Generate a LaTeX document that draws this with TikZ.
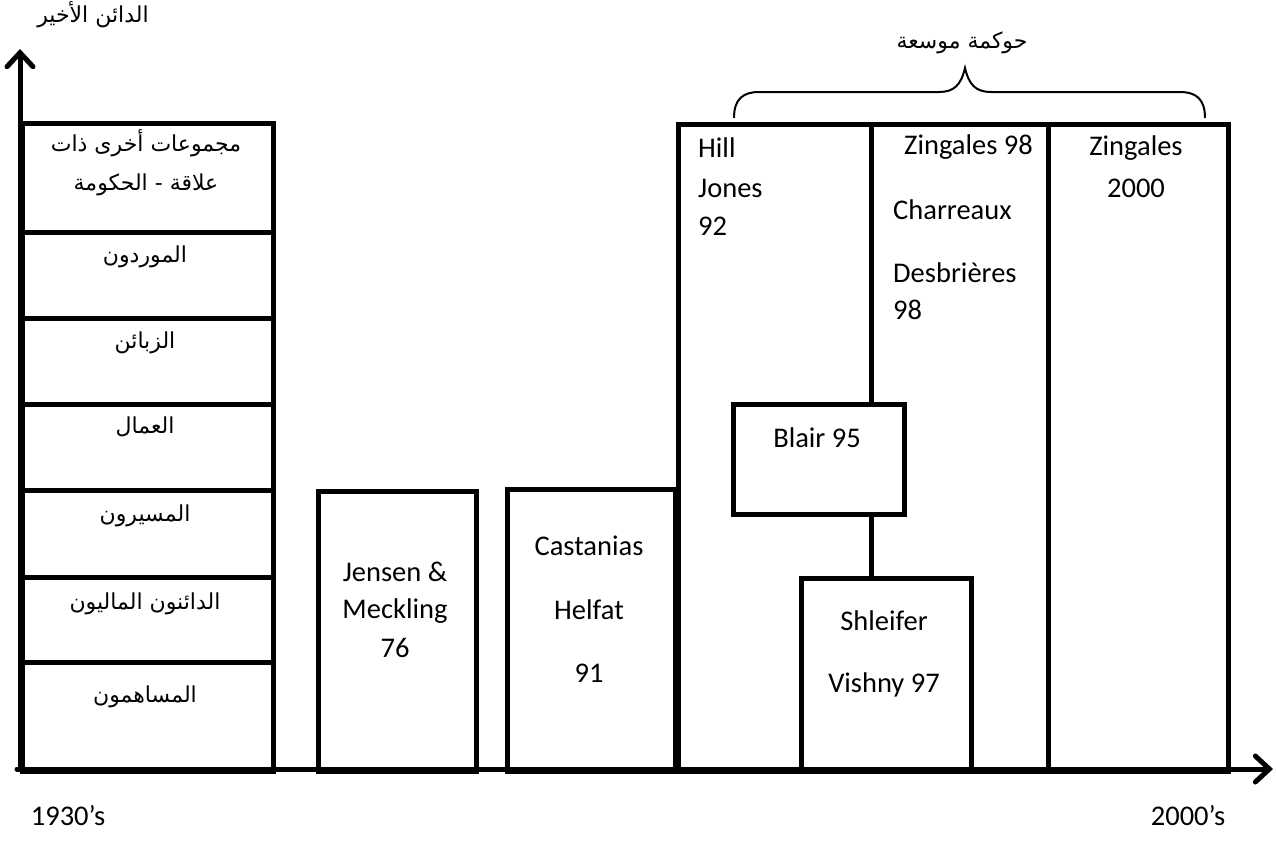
\documentclass[tikz,border=0pt]{standalone}
\usepackage{fontspec}
\setmainfont{Carlito}
\newfontfamily\arabicfont[Script=Arabic]{DejaVu Sans}
\TeXXeTstate=1
\usetikzlibrary{arrows.meta}
\tikzset{
  box/.style={draw, line width=5pt, inner sep=0pt, anchor=north west},
  lat/.style={font=\fontsize{28.5}{34}\selectfont, inner sep=0pt, text height=0.65em, text depth=0.1em},
  ar/.style={font=\arabicfont\fontsize{22}{28}\selectfont, inner sep=0pt, text height=0.75em, text depth=0.25em},
  axis/.style={line width=5pt, line cap=round, -{Straight Barb[length=14pt,width=26pt,line cap=round]}},
  link/.style={line width=5pt},
  brace/.style={line width=2pt}
}
\begin{document}
\begin{tikzpicture}[x=1pt,y=-1pt]
\useasboundingbox (0,0) rectangle (1276,841);
% left stack
\node[box, minimum width=251pt, minimum height=109pt] (s1) at (20,121) {};
\node[box, minimum width=251pt, minimum height=86pt] (s2) at (20,230) {};
\node[box, minimum width=251pt, minimum height=86pt] (s3) at (20,316) {};
\node[box, minimum width=251pt, minimum height=86pt] (s4) at (20,402) {};
\node[box, minimum width=251pt, minimum height=87pt] (s5) at (20,488) {};
\node[box, minimum width=251pt, minimum height=85pt] (s6) at (20,575) {};
\node[box, minimum width=251pt, minimum height=109pt] (s7) at (20,660) {};
% other boxes
\node[box, minimum width=158pt, minimum height=280pt] (jm) at (316,489) {};
\node[box, minimum width=168pt, minimum height=282pt] (ch) at (505,487) {};
\node[box, minimum width=370pt, minimum height=647pt] (hz) at (676,122) {};
\node[box, minimum width=180pt, minimum height=647pt] (z2) at (1046,122) {};
\node[box, minimum width=171pt, minimum height=110pt] (bl) at (731,402) {};
\node[box, minimum width=170pt, minimum height=193pt] (sv) at (799,576) {};
% connectors (divider)
\coordinate (d) at (871,122);
\draw[link] (d) -- (d |- bl.north);
\draw[link] (bl.south -| d) -- (d |- sv.north);
% axes
\coordinate (o) at (20,769);
\coordinate (ytip) at (20,49);
\coordinate (xs) at (17,769);
\coordinate (xtip) at (1273,769);
\draw[axis] (o) -- (ytip);
\draw[axis] (xs) -- (xtip);
% brace
\coordinate (bL) at (734,118);
\coordinate (bT) at (965,68);
\coordinate (bR) at (1205,118);
\draw[brace] (bL) .. controls (734,99) and (743,92) .. (759,92) -- (939,92)
  .. controls (954,92) and (961,85) .. (bT)
  .. controls (969,85) and (976,92) .. (991,92) -- (1180,92)
  .. controls (1196,92) and (1205,99) .. (bR);
% Arabic labels
\node[ar] (ylab) at (93,20) {\beginR الدائن الأخير\endR};
\node[ar] (brlab) at (962,46) {\beginR حوكمة موسعة\endR};
\node[ar] (t1a) at (146,149) {\beginR مجموعات أخرى ذات\endR};
\node[ar] (t1b) at (146,188) {\beginR علاقة -  الحكومة\endR};
\node[ar] (t2) at (145,260) {\beginR الموردون\endR};
\node[ar] (t3) at (145,346) {\beginR الزبائن\endR};
\node[ar] (t4) at (145,431) {\beginR العمال\endR};
\node[ar] (t5) at (145,519) {\beginR المسيرون\endR};
\node[ar] (t6) at (145,607) {\beginR الدائنون الماليون\endR};
\node[ar] (t7) at (145,700) {\beginR المساهمون\endR};
% Latin labels
\node[lat] (jm1) at (395,579) {Jensen \&};
\node[lat] (jm2) at (395,616) {Meckling};
\node[lat] (jm3) at (395,655) {76};
\node[lat] (ch1) at (589,553) {Castanias};
\node[lat] (ch2) at (589,617) {Helfat};
\node[lat] (ch3) at (589,680) {91};
\node[lat, anchor=west] (h1) at (698,155) {Hill};
\node[lat, anchor=west] (h2) at (698,195) {Jones};
\node[lat, anchor=west] (h3) at (698,233) {92};
\node[lat, anchor=west] (zg1) at (904,152) {Zingales 98};
\node[lat, anchor=west] (zg2) at (893,217) {Charreaux};
\node[lat, anchor=west] (zg3) at (893,280) {Desbrières};
\node[lat, anchor=west] (zg4) at (893,317) {98};
\node[lat] (za1) at (1136,153) {Zingales};
\node[lat] (za2) at (1136,195) {2000};
\node[lat] (bl1) at (817,445) {Blair 95};
\node[lat] (sv1) at (884,628) {Shleifer};
\node[lat] (sv2) at (884,690) {Vishny 97};
\node[lat] (x1) at (68,823) {1930’s};
\node[lat] (x2) at (1188,823) {2000’s};
\end{tikzpicture}
\end{document}
